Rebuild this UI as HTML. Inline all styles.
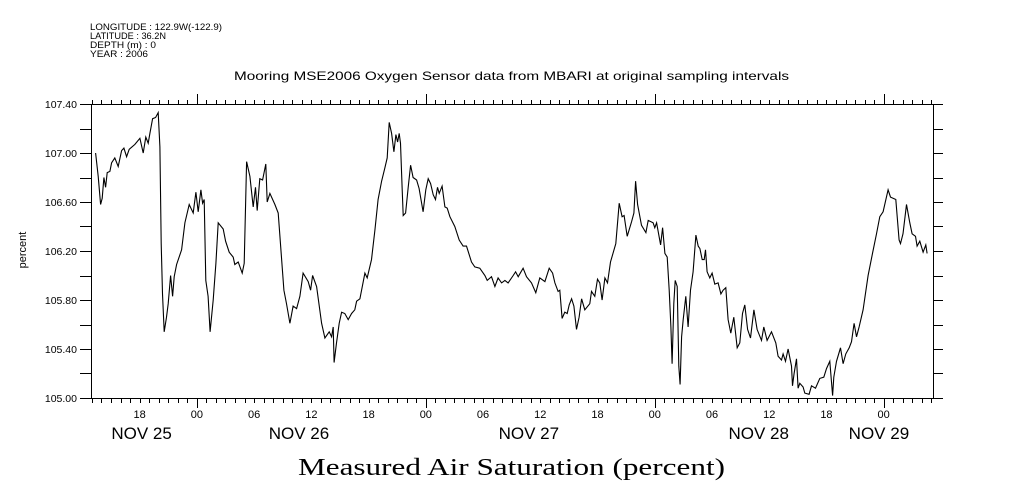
<!DOCTYPE html>
<html><head><meta charset="utf-8"><style>
html,body{margin:0;padding:0;background:#fff;}
svg{display:block;}
text{fill:#000;}
</style></head>
<body>
<svg id="chart" width="1009" height="504" viewBox="0 0 1009 504" xmlns="http://www.w3.org/2000/svg">
<g font-family="Liberation Sans, sans-serif" font-size="9.5">
<text x="90" y="30" textLength="132" lengthAdjust="spacingAndGlyphs">LONGITUDE : 122.9W(-122.9)</text>
<text x="90" y="39" textLength="76" lengthAdjust="spacingAndGlyphs">LATITUDE : 36.2N</text>
<text x="90" y="48" textLength="66" lengthAdjust="spacingAndGlyphs">DEPTH (m) : 0</text>
<text x="90" y="57" textLength="58" lengthAdjust="spacingAndGlyphs">YEAR : 2006</text>
</g>
<text x="234" y="80" font-family="Liberation Sans, sans-serif" font-size="12" textLength="555" lengthAdjust="spacingAndGlyphs">Mooring MSE2006 Oxygen Sensor data from MBARI at original sampling intervals</text>
<text x="0" y="0" transform="translate(26,250) rotate(-90)" text-anchor="middle" font-family="Liberation Sans, sans-serif" font-size="11">percent</text>
<text x="298" y="475" font-family="Liberation Serif, serif" font-size="24" textLength="427" lengthAdjust="spacingAndGlyphs">Measured Air Saturation (percent)</text>
<g id="axes"></g>
<g id="series"></g>
</svg>
<script>
// hours since Nov 25 00:00
const hours = [13.38,13.65,13.91,14.07,14.25,14.43,14.60,14.88,15.06,15.40,15.75,16.11,16.35,16.63,16.90,17.50,18.03,18.37,18.65,18.90,19.07,19.36,19.67,19.94,20.12,20.26,20.40,20.57,20.82,20.99,21.24,21.45,21.62,21.87,22.40,22.74,23.19,23.61,23.90,24.14,24.42,24.60,24.77,24.94,25.18,25.39,25.71,25.99,26.23,26.76,27.01,27.39,27.81,27.98,28.33,28.75,28.96,29.21,29.56,29.90,30.15,30.32,30.60,30.89,31.23,31.37,31.65,32.18,32.52,33.12,33.40,33.75,34.09,34.45,34.80,35.14,35.67,35.92,36.13,36.55,37.07,37.42,37.87,38.12,38.29,38.39,38.64,38.92,39.17,39.51,39.86,40.22,40.56,40.74,41.09,41.61,41.85,42.31,42.66,43.00,43.36,43.71,43.95,44.16,44.41,44.65,44.86,45.04,45.21,45.35,45.52,45.63,45.88,46.15,46.40,46.67,47.03,47.30,47.72,48.00,48.25,48.50,48.77,49.02,49.23,49.40,49.71,50.00,50.24,50.52,51.04,51.50,51.91,52.27,52.79,53.14,53.66,54.19,54.43,54.89,55.24,55.58,55.94,56.29,56.63,57.16,57.41,57.68,58.20,58.56,59.08,59.53,59.95,60.48,60.93,61.29,61.53,61.87,62.05,62.29,62.57,62.82,63.03,63.28,63.52,63.80,64.07,64.33,64.67,65.19,65.37,65.72,66.00,66.24,66.48,66.77,67.05,67.36,67.92,68.27,68.58,68.79,69.11,69.57,69.81,69.99,70.20,70.61,71.07,71.31,71.83,72.01,72.19,72.61,72.82,73.06,73.30,73.51,73.69,73.82,74.00,74.14,74.35,74.52,74.66,74.81,74.98,75.26,75.50,75.75,76.02,76.31,76.55,76.73,76.97,77.18,77.32,77.49,77.77,78.01,78.30,78.64,78.93,79.17,79.45,79.69,79.97,80.29,80.64,80.92,81.20,81.44,81.73,82.04,82.39,82.73,83.19,83.43,83.78,84.24,84.69,84.93,85.29,85.46,85.71,85.98,86.34,86.44,86.61,86.86,87.03,87.21,87.55,87.73,88.18,88.43,88.85,89.30,89.72,90.01,90.35,90.64,90.77,91.05,91.47,91.75,92.03,92.38,92.63,92.90,93.15,93.42,93.84,94.37,94.83,95.25,95.59,95.94,96.46,96.71,97.27,97.62,97.76,98.03,98.39,98.74,98.98,99.34,99.50,99.79,100.13,100.42,100.55];
const oxygen = [107.00,106.81,106.58,106.63,106.80,106.72,106.84,106.85,106.92,106.96,106.89,107.02,107.04,106.97,107.03,107.07,107.12,107.00,107.13,107.08,107.16,107.28,107.29,107.33,107.05,106.26,105.85,105.54,105.66,105.77,106.00,105.83,105.99,106.09,106.21,106.43,106.58,106.51,106.68,106.52,106.70,106.59,106.62,105.96,105.83,105.54,105.80,106.10,106.43,106.38,106.28,106.19,106.15,106.09,106.11,106.02,106.10,106.93,106.81,106.56,106.72,106.53,106.79,106.78,106.91,106.60,106.67,106.58,106.51,105.88,105.77,105.61,105.75,105.73,105.83,106.02,105.95,105.88,106.00,105.91,105.61,105.49,105.54,105.50,105.58,105.29,105.45,105.61,105.70,105.69,105.64,105.69,105.72,105.79,105.81,106.02,105.98,106.13,106.37,106.62,106.77,106.88,106.96,107.25,107.16,107.01,107.15,107.09,107.16,107.08,106.70,106.49,106.51,106.72,106.90,106.80,106.78,106.71,106.52,106.70,106.79,106.75,106.66,106.62,106.72,106.67,106.73,106.56,106.55,106.48,106.40,106.29,106.24,106.24,106.11,106.07,106.06,106.00,105.96,105.99,105.91,105.98,105.94,105.96,105.94,106.00,106.03,105.99,106.06,105.99,105.94,105.86,105.98,105.95,106.06,106.02,105.94,105.87,105.88,105.65,105.70,105.69,105.76,105.81,105.75,105.56,105.66,105.81,105.72,105.77,105.87,105.83,105.97,105.94,105.80,105.98,105.94,106.11,106.26,106.59,106.48,106.49,106.32,106.44,106.51,106.77,106.58,106.41,106.35,106.45,106.43,106.39,106.43,106.25,106.39,106.18,106.15,105.88,105.58,105.28,105.77,105.96,105.91,105.26,105.11,105.50,105.64,105.83,105.58,105.88,106.03,106.33,106.24,106.22,106.13,106.13,106.21,106.03,105.98,106.02,105.93,105.94,105.85,105.88,105.90,105.64,105.53,105.66,105.41,105.45,105.69,105.76,105.56,105.49,105.72,105.56,105.47,105.58,105.47,105.54,105.45,105.34,105.31,105.36,105.30,105.40,105.26,105.10,105.20,105.32,105.08,105.12,105.09,105.04,105.03,105.10,105.08,105.16,105.17,105.24,105.30,105.02,105.17,105.30,105.41,105.28,105.36,105.41,105.46,105.61,105.50,105.58,105.72,106.00,106.18,106.34,106.48,106.52,106.70,106.64,106.62,106.29,106.26,106.34,106.58,106.43,106.34,106.32,106.24,106.28,106.19,106.25,106.18];
const yTickLabels = ["105.00","105.40","105.80","106.20","106.60","107.00","107.40"];
const hourLabels = ["18","00","06","12","18","00","06","12","18","00","06","12","18","00"];
const hourLabelHours = [18,24,30,36,42,48,54,60,66,72,78,84,90,96];
const dayLabels = ["NOV 25","NOV 26","NOV 27","NOV 28","NOV 29"];
const dayLabelHours = [18.2,34.7,58.8,82.9,95.5];

const L=91,R=933,T=104,B=398;
const H0=-11.1+24, H1=77.17+24;
const yMin=105.0, yMax=107.4;
const sx=h=>L+(h-H0)/(H1-H0)*(R-L);
const sy=v=>B-(v-yMin)/(yMax-yMin)*(B-T);
const NS='http://www.w3.org/2000/svg';
const axes=document.getElementById('axes');
const series=document.getElementById('series');
function mk(tag,attrs,parent){const e=document.createElementNS(NS,tag);for(const k in attrs)e.setAttribute(k,attrs[k]);parent.appendChild(e);return e;}

const frame=mk('rect',{x:L+0.5,y:T+0.5,width:R-L,height:B-T,fill:'none',stroke:'#000','stroke-width':1},axes);



for(let i=0;i<=12;i++){
  const v=yMin+i*0.2, y=Math.round(sy(v))+0.5;
  const t1=mk('line',{x1:L-11,x2:L,y1:y,y2:y,stroke:'#000'},axes);
  
  
  const t2=mk('line',{x1:R,x2:R+10,y1:y,y2:y,stroke:'#000'},axes);
  
  
}
yTickLabels.forEach(s=>{
  const v=parseFloat(s);
  const t=mk('text',{x:77,y:sy(v)+4,'text-anchor':'end','font-family':'Liberation Sans, sans-serif','font-size':'10.5'},axes);
  t.textContent=s;
  
  
});
for(let h=Math.ceil(H0);h<=H1;h++){
  const x=Math.round(sx(h))+0.5, major=(h%24===0);
  const a=mk('line',{x1:x,x2:x,y1:T-(major?10:4),y2:T,stroke:'#000'},axes);
  
  
  const b=mk('line',{x1:x,x2:x,y1:B,y2:B+(major?10:5),stroke:'#000'},axes);
  
  
}
hourLabels.forEach((s,i)=>{
  const t=mk('text',{x:sx(hourLabelHours[i]),y:418,'text-anchor':'middle','font-family':'Liberation Sans, sans-serif','font-size':'11'},axes);
  t.textContent=s;
  
  
});
dayLabels.forEach((s,i)=>{
  const t=mk('text',{x:sx(dayLabelHours[i]),y:439,'text-anchor':'middle','font-family':'Liberation Sans, sans-serif','font-size':'17'},axes);
  t.textContent=s;
  
  
});
const pts=hours.map((h,i)=>sx(h).toFixed(1)+','+sy(oxygen[i]).toFixed(1)).join(' ');
const line=mk('polyline',{points:pts,fill:'none',stroke:'#000','stroke-width':1.1,'stroke-linejoin':'miter'},series);


</script>
</body></html>
